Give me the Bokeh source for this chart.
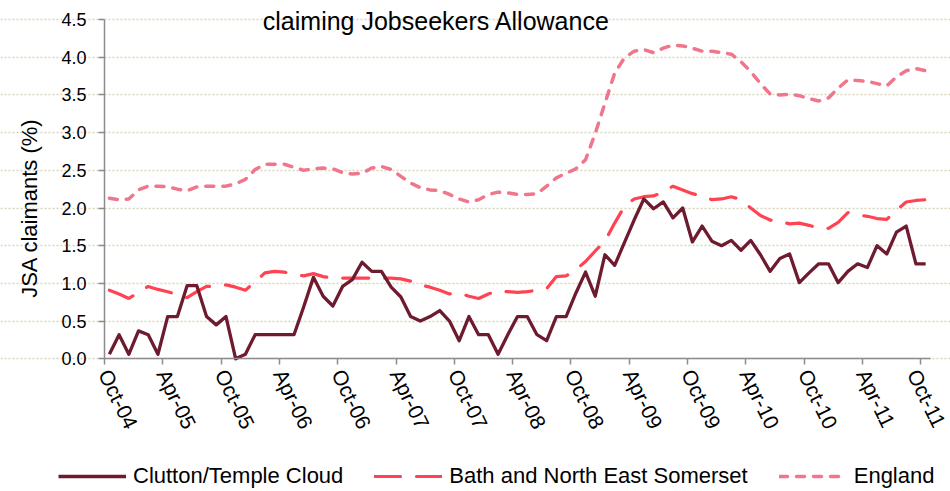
import math
from bokeh.plotting import figure
from bokeh.models import Range1d, FixedTicker, PrintfTickFormatter, Legend, LegendItem, Label
from bokeh.embed import file_html
from bokeh.resources import INLINE

months = ["Oct-04", "Apr-05", "Oct-05", "Apr-06", "Oct-06", "Apr-07", "Oct-07", "Apr-08",
          "Oct-08", "Apr-09", "Oct-09", "Apr-10", "Oct-10", "Apr-11", "Oct-11"]

clutton = [0.06, 0.32, 0.06, 0.37, 0.32, 0.06, 0.56, 0.56, 0.97, 0.97,
           0.56, 0.45, 0.56, 0.00, 0.06, 0.32, 0.32, 0.32, 0.32, 0.32,
           0.69, 1.08, 0.83, 0.70, 0.96, 1.05, 1.28, 1.16, 1.16, 0.95,
           0.82, 0.56, 0.50, 0.56, 0.64, 0.50, 0.24, 0.56, 0.32, 0.32,
           0.06, 0.32, 0.56, 0.56, 0.32, 0.24, 0.56, 0.56, 0.87, 1.15,
           0.83, 1.38, 1.24, 1.54, 1.84, 2.12, 1.99, 2.08, 1.87, 2.00,
           1.55, 1.76, 1.56, 1.50, 1.57, 1.44, 1.57, 1.38, 1.16, 1.33,
           1.39, 1.01, 1.14, 1.26, 1.26, 1.01, 1.16, 1.26, 1.21, 1.50,
           1.39, 1.68, 1.76, 1.26, 1.26]

banes = [0.91, 0.86, 0.80, 0.88, 0.96, 0.92, 0.89, 0.85, 0.81, 0.89,
         0.96, 0.96, 0.98, 0.95, 0.91, 1.02, 1.14, 1.16, 1.15, 1.12,
         1.10, 1.13, 1.09, 1.07, 1.07, 1.07, 1.07, 1.07, 1.07, 1.07,
         1.06, 1.03, 0.98, 0.95, 0.91, 0.86, 0.87, 0.83, 0.80, 0.86,
         0.90, 0.89, 0.88, 0.89, 0.91, 0.93, 1.09, 1.10, 1.18, 1.29,
         1.43, 1.56, 1.80, 2.02, 2.12, 2.15, 2.16, 2.21, 2.29, 2.24,
         2.19, 2.16, 2.11, 2.12, 2.15, 2.11, 2.00, 1.90, 1.84, 1.82,
         1.79, 1.80, 1.77, 1.73, 1.73, 1.81, 1.94, 1.91, 1.89, 1.86,
         1.85, 1.97, 2.08, 2.10, 2.11]

england = [2.13, 2.11, 2.12, 2.24, 2.29, 2.29, 2.28, 2.25, 2.23, 2.28,
           2.29, 2.29, 2.29, 2.32, 2.38, 2.51, 2.58, 2.58, 2.58, 2.54,
           2.50, 2.52, 2.53, 2.52, 2.47, 2.45, 2.46, 2.53, 2.55, 2.51,
           2.42, 2.33, 2.27, 2.24, 2.23, 2.18, 2.12, 2.08, 2.11, 2.18,
           2.21, 2.20, 2.18, 2.18, 2.19, 2.29, 2.40, 2.46, 2.52, 2.64,
           2.99, 3.39, 3.79, 3.99, 4.08, 4.10, 4.06, 4.12, 4.16, 4.15,
           4.12, 4.08, 4.08, 4.06, 4.04, 3.94, 3.81, 3.65, 3.51, 3.50,
           3.51, 3.49, 3.45, 3.42, 3.46, 3.59, 3.70, 3.69, 3.68, 3.65,
           3.62, 3.74, 3.82, 3.85, 3.82]

series_names = ["Clutton/Temple Cloud", "Bath and North East Somerset", "England"]
title_text = "claiming Jobseekers Allowance"
y_label_text = "JSA claimants (%)"
y_ticks = [0.0, 0.5, 1.0, 1.5, 2.0, 2.5, 3.0, 3.5, 4.0, 4.5]

n = len(clutton)
xs = [i + 0.5 for i in range(n)]
x_ticks = [6 * k for k in range(len(months))]

FONT = "Liberation Sans"
W, H = 950, 491
X0_PX, X1_PX = 104.0, 930.0   # where the category axis starts / ends
Y0_PX, Y1_PX = 358.3, 19.0    # where 0.0 and 4.5 sit
ppx = (X1_PX - X0_PX) / n
ppy = (Y0_PX - Y1_PX) / 4.5


def px_to_x(px):
    return (px - X0_PX) / ppx


def px_to_y(py):
    return (Y0_PX - py) / ppy


p = figure(width=W, height=H, output_backend="svg", toolbar_location=None,
           x_range=Range1d(px_to_x(0), px_to_x(W)),
           y_range=Range1d(px_to_y(H), px_to_y(0)),
           min_border=0, min_border_left=0, min_border_right=0,
           min_border_top=0, min_border_bottom=0)
p.outline_line_color = None
p.background_fill_color = "white"
p.border_fill_color = "white"

p.xgrid.visible = False
p.ygrid.ticker = FixedTicker(ticks=y_ticks)
p.ygrid.bounds = (0, n)
p.ygrid.grid_line_color = "#d8d3ba"
p.ygrid.grid_line_dash = "2 2"
p.ygrid.grid_line_width = 1.5

for ax in (p.xaxis[0], p.yaxis[0]):
    ax.axis_line_color = "#8c8c8c"
    ax.axis_line_width = 1.5
    ax.major_tick_line_color = "#8c8c8c"
    ax.major_tick_line_width = 1.5
    ax.major_tick_out = 6
    ax.major_tick_in = 0
    ax.minor_tick_out = 0
    ax.minor_tick_in = 0
    ax.major_label_text_font = FONT
    ax.major_label_text_color = "black"

p.yaxis.fixed_location = 0
p.yaxis.bounds = (0, 4.5)
p.yaxis.major_label_text_font_size = "18px"
p.yaxis.ticker = FixedTicker(ticks=y_ticks)
p.yaxis.formatter = PrintfTickFormatter(format="%.1f")
p.yaxis.major_label_standoff = 12

p.xaxis.fixed_location = 0
p.xaxis.bounds = (0, n)
p.xaxis.major_label_text_font_size = "21px"
p.xaxis.ticker = FixedTicker(ticks=x_ticks)
p.xaxis.major_label_overrides = {t: m for t, m in zip(x_ticks, months)}
p.xaxis.major_label_orientation = -math.radians(64)
p.xaxis.major_label_standoff = 6

r_eng = p.line(xs, england, line_color="#f0768c", line_width=3.5, line_dash="8 9", line_cap="round")
r_banes = p.line(xs, banes, line_color="#ff4352", line_width=3.2, line_dash="26 16", line_cap="round")
r_clut = p.line(xs, clutton, line_color="#6e1a2f", line_width=3.3, line_join="round")

legend = Legend(items=[LegendItem(label=series_names[0], renderers=[r_clut]),
                       LegendItem(label=series_names[1], renderers=[r_banes]),
                       LegendItem(label=series_names[2], renderers=[r_eng])],
                orientation="horizontal", location=(58, 2),
                glyph_width=68, glyph_height=22, label_standoff=7, spacing=31,
                padding=0, margin=0, border_line_color=None, background_fill_alpha=0,
                label_text_font=FONT, label_text_font_size="22px", label_text_color="black")
p.add_layout(legend, "center")

title = Label(x=px_to_x(436), y=px_to_y(20), text=title_text, text_align="center",
              text_baseline="alphabetic", text_font=FONT, text_font_size="25px", text_color="black")
p.add_layout(title)

ylab = Label(x=px_to_x(29), y=px_to_y(207.5), text=y_label_text, angle=math.pi / 2,
             text_align="center", text_baseline="middle", text_font=FONT,
             text_font_size="22px", text_color="black")
p.add_layout(ylab)

open("out.html", "w").write(file_html(p, INLINE))
